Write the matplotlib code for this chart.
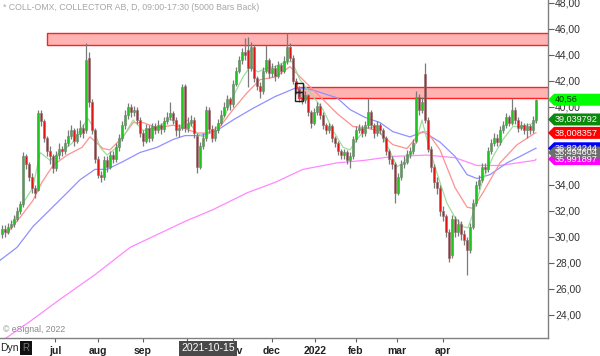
import numpy as np
import matplotlib
matplotlib.use('Agg')
import matplotlib.pyplot as plt
from matplotlib.patches import Rectangle, Polygon

plt.rcParams['font.family'] = ['Liberation Sans', 'DejaVu Sans']

# Daily bars (index = bar number)
opens = [30.2, 30.6, 30.4, 30.8, 31.0, 31.4, 32.0, 32.5, 36.2, 35.6,
         34.6, 33.8, 33.6, 39.5, 38.9, 37.6, 36.6, 36.2, 35.3, 36.3,
         36.8, 36.6, 37.2, 37.8, 38.2, 37.4, 37.9, 38.4, 38.2, 43.8,
         40.4, 38.2, 36.0, 34.8, 34.6, 35.9, 35.4, 36.3, 36.0, 36.9,
         37.6, 38.6, 39.4, 40.0, 39.6, 39.8, 39.0, 38.0, 37.4, 38.4,
         37.6, 38.5, 38.2, 38.6, 38.3, 38.9, 39.2, 39.5, 39.0, 38.2,
         38.4, 41.6, 38.4, 38.8, 39.0, 37.8, 35.4, 37.0, 37.6, 39.8,
         38.3, 37.6, 38.2, 38.8, 39.4, 40.0, 40.6, 40.2, 41.8, 42.8,
         43.6, 44.2, 44.4, 43.0, 44.6, 42.2, 41.6, 41.2, 42.8, 43.6,
         42.6, 43.0, 42.4, 43.2, 42.8, 43.5, 44.6, 43.8, 42.0, 41.4,
         40.8, 40.5, 40.9, 39.6, 38.8, 39.6, 40.1, 39.4, 38.6, 38.2,
         38.5, 37.6, 37.2, 36.6, 36.3, 36.5, 35.9, 36.2, 37.5, 38.2,
         38.4, 38.0, 38.6, 39.6, 38.6, 38.0, 38.6, 38.2, 37.6, 36.6,
         36.0, 35.6, 33.4, 34.6, 35.6, 35.8, 36.4, 36.6, 37.4, 40.8,
         39.8, 42.5, 39.0, 36.8, 35.4, 34.2, 33.8, 32.0, 31.6, 30.4,
         28.6, 31.4, 30.4, 31.0, 30.2, 29.8, 29.0, 30.8, 32.6, 34.0,
         34.4, 35.4, 35.2, 36.6, 37.2, 37.6, 37.3, 38.2, 38.6, 39.2,
         38.8, 39.8, 39.0, 38.4, 38.6, 38.2, 38.5, 38.2, 39.0]
highs = [30.9, 30.9, 31.1, 31.3, 31.7, 32.3, 32.8, 36.5, 36.4, 35.8,
         34.9, 34.0, 39.8, 39.8, 39.1, 37.8, 37.0, 36.4, 36.6, 37.2,
         37.0, 37.5, 38.2, 38.6, 38.4, 38.4, 39.0, 38.7, 44.9, 44.2,
         40.6, 38.4, 36.2, 35.1, 36.2, 36.2, 36.6, 36.6, 37.2, 37.9,
         38.9, 39.8, 40.3, 40.2, 40.1, 40.0, 39.2, 38.2, 38.7, 38.6,
         38.8, 38.8, 39.0, 38.8, 39.2, 39.6, 40.4, 39.7, 39.2, 38.7,
         41.8, 41.8, 39.2, 39.4, 39.2, 38.0, 37.3, 38.0, 40.1, 40.0,
         38.6, 38.5, 39.1, 39.8, 40.4, 40.9, 40.8, 42.1, 43.1, 43.9,
         44.5, 45.3, 45.4, 45.0, 44.8, 42.4, 41.9, 43.1, 44.8, 43.8,
         43.4, 43.2, 43.5, 43.4, 43.9, 45.7, 44.9, 44.0, 42.2, 41.6,
         41.1, 41.2, 41.0, 39.8, 39.9, 40.4, 40.3, 39.6, 38.8, 38.8,
         38.7, 37.8, 37.4, 36.8, 36.8, 36.7, 36.5, 37.8, 38.5, 38.7,
         38.6, 38.9, 40.7, 39.8, 38.8, 38.9, 38.8, 38.4, 37.8, 36.8,
         36.2, 35.8, 34.9, 35.9, 36.2, 36.7, 36.9, 37.5, 41.2, 41.0,
         40.8, 43.4, 39.2, 37.0, 35.6, 34.6, 34.0, 32.4, 31.8, 30.6,
         31.7, 31.6, 31.4, 31.2, 30.5, 30.0, 31.1, 32.9, 34.3, 34.8,
         35.7, 35.7, 36.9, 37.5, 38.0, 37.9, 38.5, 38.9, 39.5, 39.4,
         40.7, 40.0, 39.2, 38.9, 38.8, 38.8, 38.7, 39.3, 40.6]
lows = [29.9, 30.0, 30.2, 30.6, 30.8, 31.2, 31.8, 32.3, 35.2, 34.3,
        33.4, 33.0, 33.5, 38.5, 37.3, 36.2, 35.6, 34.9, 35.1, 36.0,
        36.2, 36.4, 37.0, 37.5, 37.0, 37.2, 37.7, 37.6, 38.0, 40.0,
        37.9, 35.7, 34.5, 34.2, 34.4, 35.0, 35.2, 35.7, 35.8, 36.6,
        37.4, 38.3, 39.1, 39.2, 39.3, 38.7, 37.7, 37.0, 37.2, 37.3,
        37.4, 37.9, 38.0, 37.9, 38.1, 38.7, 39.0, 38.7, 37.8, 37.7,
        38.2, 38.1, 38.1, 38.5, 37.6, 34.9, 35.2, 36.8, 37.4, 38.0,
        37.3, 37.4, 38.0, 38.6, 39.2, 39.8, 39.8, 40.0, 41.6, 42.6,
        43.3, 43.6, 41.5, 42.8, 41.9, 41.3, 40.7, 41.0, 42.6, 42.2,
        42.3, 42.0, 42.2, 42.5, 42.6, 43.3, 43.5, 41.8, 41.0, 40.4,
        40.2, 40.3, 39.3, 38.4, 38.6, 39.4, 39.1, 38.3, 37.9, 38.0,
        37.3, 36.9, 36.3, 36.0, 36.0, 35.6, 35.3, 36.0, 37.3, 38.0,
        37.7, 37.8, 38.4, 38.3, 37.6, 37.8, 37.9, 37.3, 36.3, 35.6,
        35.2, 32.6, 33.2, 34.4, 35.3, 35.6, 36.1, 36.4, 37.2, 39.4,
        39.5, 38.8, 36.5, 35.0, 33.8, 33.3, 31.6, 31.2, 30.0, 28.1,
        28.4, 30.0, 30.1, 29.8, 29.4, 27.1, 28.8, 30.6, 32.4, 33.7,
        34.2, 34.9, 35.0, 36.4, 37.0, 37.0, 37.1, 38.0, 38.4, 38.5,
        38.6, 38.7, 38.1, 38.2, 37.9, 37.6, 37.9, 38.0, 38.8]
closes = [30.6, 30.4, 30.8, 31.0, 31.4, 32.0, 32.5, 36.2, 35.6, 34.6,
          33.8, 33.4, 39.5, 38.9, 37.6, 36.6, 36.2, 35.3, 36.3, 36.8,
          36.6, 37.2, 37.8, 38.2, 37.4, 37.9, 38.4, 38.0, 43.6, 40.4,
          38.2, 36.0, 34.8, 34.6, 35.9, 35.4, 36.3, 36.0, 36.9, 37.6,
          38.6, 39.4, 40.0, 39.6, 39.8, 39.0, 38.0, 37.4, 38.4, 37.6,
          38.5, 38.2, 38.6, 38.3, 38.9, 39.2, 39.5, 39.0, 38.2, 38.4,
          41.5, 38.4, 38.8, 39.0, 38.0, 35.4, 37.0, 37.6, 39.8, 38.3,
          37.6, 38.2, 38.8, 39.4, 40.0, 40.6, 40.2, 41.8, 42.8, 43.6,
          44.2, 44.0, 43.0, 44.6, 42.2, 41.6, 41.2, 42.8, 43.6, 42.6,
          43.0, 42.4, 43.2, 42.8, 43.5, 44.6, 43.8, 42.0, 41.4, 40.8,
          40.5, 40.9, 39.6, 38.8, 39.6, 40.1, 39.4, 38.6, 38.2, 38.5,
          37.6, 37.2, 36.6, 36.3, 36.5, 35.9, 36.2, 37.5, 38.2, 38.4,
          38.0, 38.6, 39.6, 38.6, 38.0, 38.6, 38.2, 37.6, 36.6, 36.0,
          35.6, 33.4, 34.6, 35.6, 35.8, 36.4, 36.6, 37.2, 40.8, 39.8,
          40.4, 39.0, 36.8, 35.4, 34.2, 33.8, 32.0, 31.6, 30.4, 28.4,
          31.4, 30.4, 31.0, 30.2, 29.8, 29.0, 30.8, 32.6, 34.0, 34.4,
          35.4, 35.2, 36.6, 37.2, 37.6, 37.3, 38.2, 38.6, 39.2, 38.8,
          39.8, 39.0, 38.4, 38.6, 38.2, 38.5, 38.2, 39.0, 40.56]

# Moving average lines (bar index, value)
ma_green_x = [3.7, 7, 10.3, 12.7, 16, 19.3, 23.3, 26, 28.7, 30, 32.7, 35, 38.3, 41.7,
              43.7, 47, 51.7, 56, 59.3, 61.7, 65, 67, 70.3, 73.7, 77, 80.3, 82.7,
              85.3, 88.3, 91, 93.7, 96.7, 99.3, 103.7, 107, 110.3, 113.7, 116,
              118.3, 121.5, 125, 128.3, 131.7, 133.7, 137, 140, 142, 145, 148.3,
              151, 153.7, 155.3, 157, 160.3, 163.7, 167, 170.3, 173.7, 177.7, 178]
ma_green_y = [31.1, 32.6, 33.8, 36.5, 35.9, 36.5, 37.2, 38.2, 39.1, 38.6, 36.9, 36.3,
              36.9, 38.2, 39.0, 38.2, 38.4, 39.1, 38.5, 39.0, 38.0, 37.7, 38.1, 39.0,
              40.8, 42.3, 43.1, 42.7, 43.0, 43.1, 43.4, 43.5, 42.1, 40.8, 39.8, 38.2,
              36.9, 36.7, 37.5, 38.4, 38.5, 37.1, 35.4, 35.7, 36.5, 39.0, 37.2, 34.9,
              32.6, 31.5, 30.8, 30.7, 31.8, 34.4, 36.2, 37.5, 38.5, 38.5, 38.8, 39.04]
ma_red_x = [1.7, 6, 10.3, 13.3, 17, 21.7, 26.7, 29.3, 33.7, 36, 40.3, 43.7, 47, 51.7,
            57, 60.3, 65, 68.3, 72.7, 77, 81.7, 86, 91, 96, 100.3, 106, 111.7, 117,
            121, 125, 130.3, 135, 139.3, 141.7, 146, 151, 155, 157, 160.3, 166,
            171.7, 177.7, 178]
ma_red_y = [30.3, 31.5, 32.8, 34.2, 35.5, 36.3, 36.9, 37.7, 36.8, 36.7, 37.7, 38.8,
            38.8, 38.4, 38.6, 38.4, 38.0, 38.0, 38.5, 39.8, 41.1, 42.1, 42.3, 43.1,
            42.1, 40.8, 39.5, 38.5, 38.4, 38.2, 37.1, 36.8, 38.0, 38.1, 36.7, 33.8,
            32.3, 32.2, 33.4, 35.7, 37.1, 38.0, 38.01]
ma_blue_x = [-0.7, 5, 10.3, 16, 21.7, 26, 31, 35, 40.3, 46, 51.7, 57, 61, 66, 71.7,
             77, 83.7, 91, 98.3, 103.7, 111.7, 116, 121, 126, 130.3, 136, 140.3,
             146, 151, 155, 158.3, 162.7, 168.3, 172.7, 177.7, 178]
ma_blue_y = [28.2, 29.2, 30.8, 32.1, 33.4, 34.4, 35.2, 35.2, 35.8, 36.5, 36.9, 37.5,
             37.8, 37.8, 38.2, 39.0, 39.9, 40.8, 41.5, 41.3, 40.7, 39.8, 39.2, 38.8,
             38.1, 37.7, 38.1, 37.3, 36.2, 34.8, 34.5, 34.8, 35.7, 36.2, 36.8, 36.82]
ma_pink_x = [-0.7, 9.3, 19.3, 31, 42.7, 61, 70.3, 81.7, 91, 100.3, 111.7, 121,
             130.3, 141.7, 151, 158.3, 166, 177.7, 178]
ma_pink_y = [21.9, 23.5, 25.2, 27.1, 29.2, 31.2, 32.1, 33.4, 34.2, 35.2, 35.7, 35.9,
             36.2, 36.3, 36.1, 35.5, 35.5, 35.9, 35.99]

# Resistance zones: (first bar, low, high)
zones = [(15, 44.8, 45.7), (98.7, 40.7, 41.5)]

month_pos = [17.7, 32, 47, 61.7, 77, 90, 104.3, 118, 131.7, 147]
month_labels = ['jul', 'aug', 'sep', 'oct', 'nov', 'dec', '2022', 'feb', 'mar', 'apr']

# Last-value tags on the price scale: value, background, text colour
tag_values = [40.56, 39.039792, 38.008357, 36.824244, 35.991897, 36.494604]
tag_colors = ['#00ff00', '#0a8a0a', '#ff0000', '#0000ff', '#ff00ff', '#6e6e6e']
tag_text_colors = ['#003300', 'white', 'white', 'white', 'white', 'white']

W, H = 600, 356
fig = plt.figure(figsize=(W / 100, H / 100), dpi=100)
ax = fig.add_axes([0, 18 / H, 548 / W, 338 / H])

o = np.array(opens)
c = np.array(closes)
x = np.arange(len(c))
up = c >= o

for start, lo, hi in zones:
    ax.add_patch(Rectangle((start, lo), 200, hi - lo, facecolor='#ffb3b3',
                           edgecolor='#ff2020', lw=1.0, zorder=1))

ax.plot(ma_pink_x, ma_pink_y, color='#ff88ff', lw=0.9, zorder=2)
ax.plot(ma_blue_x, ma_blue_y, color='#9090ff', lw=0.9, zorder=2)
ax.plot(ma_red_x, ma_red_y, color='#ff9090', lw=0.9, zorder=2)
ax.plot(ma_green_x, ma_green_y, color='#9edc9e', lw=0.9, zorder=2)

ax.vlines(x, lows, highs, color='#7a7a7a', lw=0.9, zorder=3)
ax.bar(x, np.maximum(np.abs(c - o), 0.06), bottom=np.minimum(o, c), width=0.72,
       color=np.where(up, '#1fc41f', '#e01515'), edgecolor='#7a7a7a',
       linewidth=0.4, zorder=4)

# cursor marker
ax.add_patch(Rectangle((97.7, 40.45), 2.5, 0.7, fill=False, edgecolor='#222222', lw=1, zorder=5))
ax.add_patch(Rectangle((97.7, 41.15), 2.5, 0.7, fill=False, edgecolor='#222222', lw=1, zorder=5))

ax.set_xlim(-2 / 3, 182)
ax.set_ylim(22.23, 48.23)
for s in ['left', 'top']:
    ax.spines[s].set_visible(False)
for s in ['right', 'bottom']:
    ax.spines[s].set_color('#808080')
    ax.spines[s].set_linewidth(1)

ax.yaxis.tick_right()
yt = list(range(24, 49, 2))
ax.set_yticks(yt)
ax.set_yticklabels([f'{v},00' for v in yt])
ax.tick_params(axis='y', direction='out', length=4, width=0.8, color='#606060',
               labelsize=7.5, labelcolor='#333333', pad=1)
ax.set_xticks(month_pos)
ax.set_xticklabels(month_labels)
ax.tick_params(axis='x', direction='out', length=3, width=0.8, color='#606060',
               labelsize=7.5, labelcolor='#222222', pad=2.5)
for lbl in ax.get_xticklabels():
    lbl.set_fontweight('bold')

fig.canvas.draw()
inv = fig.transFigure.inverted()
for v, bg, fg in zip(tag_values, tag_colors, tag_text_colors):
    yf = inv.transform(ax.transData.transform((0, v)))[1]
    hh = 6 / H
    pts = [(548 / W, yf), (554 / W, yf + hh), (1.0, yf + hh), (1.0, yf - hh), (554 / W, yf - hh)]
    fig.patches.append(Polygon(pts, closed=True, transform=fig.transFigure,
                               facecolor=bg, edgecolor='none'))
    fig.text(555 / W, yf, f'{v}'.replace('.', ','), color=fg, fontsize=6.6,
             ha='left', va='center')

fig.text(3 / W, 1 - 8 / H, '* COLL-OMX, COLLECTOR AB, D, 09:00-17:30 (5000 Bars Back)',
         color='#a6a6a6', fontsize=6.3, ha='left', va='center')
fig.text(3 / W, 1 - 330 / H, '\u00a9 eSignal, 2022', color='#8a8a8a', fontsize=6.3,
         ha='left', va='center')
fig.text(0, 1 - 348 / H, 'Dyn', color='#222222', fontsize=7.5, ha='left', va='center')
fig.patches.append(Rectangle((20 / W, 1 - 355 / H), 12 / W, 14 / H, transform=fig.transFigure,
                             facecolor='#111111', edgecolor='none'))
fig.text(26 / W, 1 - 348 / H, 'R', color='#777777', fontsize=7, ha='center', va='center')
fig.text(208 / W, 1 - 348 / H, '2021-10-15', color='white', fontsize=7.5, ha='center',
         va='center', bbox=dict(facecolor='#4a4a4a', edgecolor='none', pad=1.8))

fig.savefig('out.png', dpi=100)
